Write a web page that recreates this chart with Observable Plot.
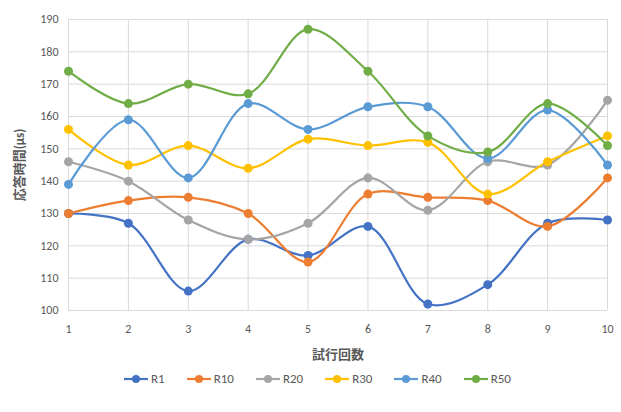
<!DOCTYPE html>
<html><head><meta charset="utf-8">
<script src="https://cdn.jsdelivr.net/npm/d3@7"></script>
<script src="https://cdn.jsdelivr.net/npm/@observablehq/plot@0.6"></script>
<style>
body{margin:0;background:#fff;font-family:Calibri,"Noto Sans CJK JP",sans-serif;}
#legend{display:flex;justify-content:center;gap:22px;font-size:13px;color:#595959;margin-top:3px;margin-left:14px}
.li{display:flex;align-items:center;gap:3px}
</style></head><body>
<div id="chart"></div>
<div id="legend"></div>
<script>
const trials = [1,2,3,4,5,6,7,8,9,10];
const seriesNames = ["R1","R10","R20","R30","R40","R50"];
const colors = ["#4472C4","#ED7D31","#A5A5A5","#FFC000","#5B9BD5","#70AD47"];
const R1  = [130,127,106,122,117,126,102,108,127,128];
const R10 = [130,134,135,130,115,136,135,134,126,141];
const R20 = [146,140,128,122,127,141,131,146,145,165];
const R30 = [156,145,151,144,153,151,152,136,146,154];
const R40 = [139,159,141,164,156,163,163,147,162,145];
const R50 = [174,164,170,167,187,174,154,149,164,151];
const yTicks = [100,110,120,130,140,150,160,170,180,190];
const allSeries = [R1,R10,R20,R30,R40,R50];
const data = [];
seriesNames.forEach((s,i)=>trials.forEach((t,j)=>data.push({series:s,trial:t,value:allSeries[i][j]})));

const chart = Plot.plot({
  width:621, height:368,
  marginLeft:68, marginRight:14, marginTop:19, marginBottom:58,
  style:{fontFamily:'Calibri,"Noto Sans CJK JP",sans-serif',fontSize:"12px",color:"#595959"},
  x:{domain:[1,10]},
  y:{domain:[100,190]},
  color:{domain:seriesNames, range:colors},
  marks:[
    Plot.gridX(trials,{stroke:"#d9d9d9",strokeOpacity:1}),
    Plot.gridY(yTicks,{stroke:"#d9d9d9",strokeOpacity:1}),
    Plot.axisX(trials,{tickSize:0,tickPadding:14,fontSize:12,label:"試行回数",labelAnchor:"center",labelOffset:48,labelArrow:"none"}),
    Plot.axisY(yTicks,{tickSize:0,tickPadding:10,fontSize:12,label:"応答時間(μs)",labelAnchor:"center",labelOffset:54,labelArrow:"none"}),
    Plot.line(data,{x:"trial",y:"value",z:"series",stroke:"series",strokeWidth:2.2,curve:"catmull-rom"}),
    Plot.dot(data,{x:"trial",y:"value",fill:"series",r:4.5})
  ]
});
document.getElementById("chart").append(chart);
d3.select(chart).selectAll('g[aria-label="x-axis label"] text, g[aria-label="y-axis label"] text').attr("font-size","13px").attr("font-weight","bold");

const lg = d3.select("#legend");
seriesNames.forEach((s,i)=>{
  const it = lg.append("div").attr("class","li");
  const sv = it.append("svg").attr("width",24).attr("height",10);
  sv.append("line").attr("x1",0).attr("x2",24).attr("y1",5).attr("y2",5).attr("stroke",colors[i]).attr("stroke-width",2.2);
  sv.append("circle").attr("cx",12).attr("cy",5).attr("r",4).attr("fill",colors[i]);
  it.append("span").text(s);
});
</script>
</body></html>
